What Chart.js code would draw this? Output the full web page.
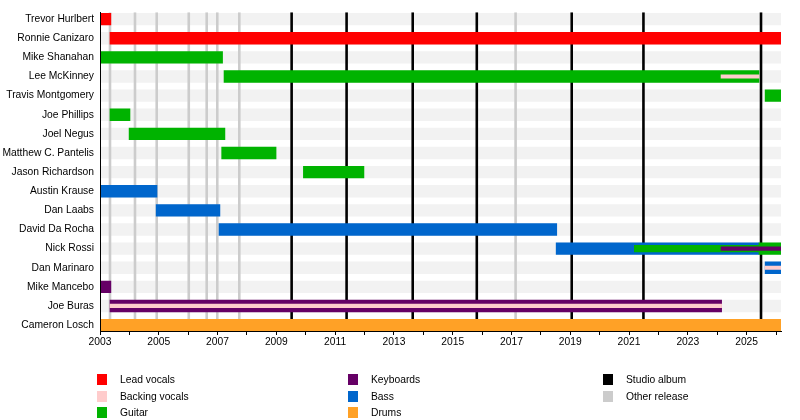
<!DOCTYPE html>
<html>
<head>
<meta charset="utf-8">
<script src="https://cdn.jsdelivr.net/npm/chart.js@4.4.1/dist/chart.umd.min.js"></script>
<style>
  html, body { margin: 0; padding: 0; background: #fff; }
  #wrap { position: relative; width: 800px; height: 420px; overflow: hidden; }
  #chart { position: absolute; left: 0; top: 0; }
  .item { position: absolute; font: 10.3px "Liberation Sans", Arial, sans-serif; color: #000; line-height: 12px; white-space: nowrap; }
  .item i { position: absolute; left: 0; top: 0; width: 10px; height: 11px; }
  .item span { position: absolute; left: 23px; top: 0; }
</style>
</head>
<body>
<div id="wrap">
  <canvas id="chart" width="800" height="420"></canvas>
  <div id="legend"></div>
</div>
<script>
// Members, top to bottom
const MEMBERS = [
  "Trevor Hurlbert", "Ronnie Canizaro", "Mike Shanahan", "Lee McKinney",
  "Travis Montgomery", "Joe Phillips", "Joel Negus", "Matthew C. Pantelis",
  "Jason Richardson", "Austin Krause", "Dan Laabs", "David Da Rocha",
  "Nick Rossi", "Dan Marinaro", "Mike Mancebo", "Joe Buras", "Cameron Losch",
];

const START = 2003;
const END = 2026.17;
const YEAR_TICKS = [2003, 2004, 2005, 2006, 2007, 2008, 2009, 2010, 2011, 2012, 2013, 2014,
  2015, 2016, 2017, 2018, 2019, 2020, 2021, 2022, 2023, 2024, 2025, 2026];

// [row, from, to] in decimal years
const LEAD_VOCALS = [[0, 2003, 2003.37], [1, 2003.34, END]];
const GUITAR = [
  [2, 2003, 2007.17], [3, 2007.22, 2025.42], [4, 2025.63, END],
  [5, 2003.34, 2004.02], [6, 2003.99, 2007.25], [7, 2007.14, 2008.99],
  [8, 2009.92, 2011.98], [12, 2025.42, END],
];
const BASS = [
  [9, 2003, 2004.94], [10, 2004.91, 2007.08], [11, 2007.05, 2018.54],
  [12, 2018.52, 2025.42], [13, 2025.63, END],
];
const KEYBOARDS = [[14, 2003, 2003.37], [15, 2003.34, 2024.15]];
const DRUMS = [[16, 2003, END]];

// secondary roles (narrower bars on top of the main ones)
const GUITAR_2ND = [[12, 2021.18, 2025.42]];
const KEYBOARDS_3RD = [[12, 2024.13, END]];
const BACKING_VOCALS_3RD = [[3, 2024.13, 2025.42], [13, 2025.63, END], [15, 2003.34, 2024.15]];

const STUDIO_ALBUMS = [2009.52, 2011.39, 2013.64, 2015.82, 2019.05, 2021.49, 2025.49];
const OTHER_RELEASES = [2003.34, 2004.19, 2004.93, 2006.02, 2006.63, 2006.99, 2007.74, 2017.14];

const LEGEND_LABELS = ["Lead vocals", "Backing vocals", "Guitar", "Keyboards", "Bass", "Drums", "Studio album", "Other release"];

const RED = "#ff0000";
const PINK = "#ffcccc";
const GREEN = "#00b300";
const PURPLE = "#660066";
const BLUE = "#0066cc";
const ORANGE = "#ffa126";
const BLACK = "#000000";
const GREY = "#cccccc";
const STRIPE = "#f2f2f2";
const LEGEND_COLORS = [RED, PINK, GREEN, PURPLE, BLUE, ORANGE, BLACK, GREY];

const Y_MIN = -0.364;
const Y_MAX = 16.31;
const FONT = { family: "'Liberation Sans', Arial, sans-serif", size: 10.3 };

function barSet(label, rows, color, thickness, order) {
  return {
    type: "bar",
    label,
    data: rows.map(([r, a, b]) => ({ y: r, x: [a, b] })),
    backgroundColor: color,
    barThickness: thickness,
    grouped: false,
    borderWidth: 0,
    borderSkipped: false,
    order,
  };
}

function releaseLines(label, years, color, order) {
  const data = [];
  years.forEach((yr) => {
    data.push({ x: yr, y: Y_MIN }, { x: yr, y: Y_MAX }, { x: null, y: null });
  });
  return {
    type: "line",
    label,
    data,
    borderColor: color,
    borderWidth: 2.6,
    pointRadius: 0,
    spanGaps: false,
    tension: 0,
    order,
  };
}

const datasets = [
  // lower order = drawn on top
  barSet("Backing vocals", BACKING_VOCALS_3RD, PINK, 3.5, 1),
  barSet("Keyboards (3rd)", KEYBOARDS_3RD, PURPLE, 3.5, 1),
  barSet("Guitar (2nd)", GUITAR_2ND, GREEN, 6.5, 2),
  barSet("Lead vocals", LEAD_VOCALS, RED, 11.7, 3),
  barSet("Guitar", GUITAR, GREEN, 11.7, 3),
  barSet("Bass", BASS, BLUE, 11.7, 3),
  barSet("Keyboards", KEYBOARDS, PURPLE, 11.7, 3),
  barSet("Drums", DRUMS, ORANGE, 11.7, 3),
  releaseLines("Studio album", STUDIO_ALBUMS, BLACK, 4),
  releaseLines("Other release", OTHER_RELEASES, GREY, 4),
  barSet("bg", MEMBERS.map((_, i) => [i, START, END]), STRIPE, 11.7, 6),
];

new Chart(document.getElementById("chart"), {
  data: { datasets },
  options: {
    indexAxis: "y",
    responsive: false,
    animation: false,
    layout: { padding: { top: 10, right: 19, bottom: 0, left: 0 } },
    plugins: { legend: { display: false }, tooltip: { enabled: false } },
    scales: {
      x: {
        type: "linear",
        position: "bottom",
        offset: false,
        min: START,
        max: END,
        afterFit: (s) => { s.height = 89; },
        afterBuildTicks: (s) => { s.ticks = YEAR_TICKS.map((v) => ({ value: v })); },
        border: { display: true, color: "#000", width: 1, z: 1 },
        grid: { drawOnChartArea: false, drawTicks: true, tickLength: 4, color: "#000" },
        ticks: {
          autoSkip: false, maxRotation: 0, padding: 1, color: "#000", font: FONT,
          callback: (v) => ((v - START) % 2 === 0 ? String(v) : ""),
        },
      },
      y: {
        type: "linear",
        reverse: true,
        offset: false,
        min: Y_MIN,
        max: Y_MAX,
        afterFit: (s) => { s.width = 100; },
        afterBuildTicks: (s) => { s.ticks = MEMBERS.map((_, i) => ({ value: i })); },
        border: { display: true, color: "#000", width: 1, z: 1 },
        grid: { display: false, drawTicks: false },
        ticks: {
          autoSkip: false, padding: 6, color: "#000", font: FONT,
          callback: (v) => MEMBERS[v] ?? "",
        },
      },
    },
  },
});

// legend: three columns of three
const legend = document.getElementById("legend");
const COL_X = [97, 348, 603];
const ROW_Y = [374, 390.5, 407];
LEGEND_LABELS.forEach((label, i) => {
  const d = document.createElement("div");
  d.className = "item";
  d.style.left = COL_X[Math.floor(i / 3)] + "px";
  d.style.top = ROW_Y[i % 3] + "px";
  d.innerHTML = `<i style="background:${LEGEND_COLORS[i]}"></i><span>${label}</span>`;
  legend.appendChild(d);
});
</script>
</body>
</html>
